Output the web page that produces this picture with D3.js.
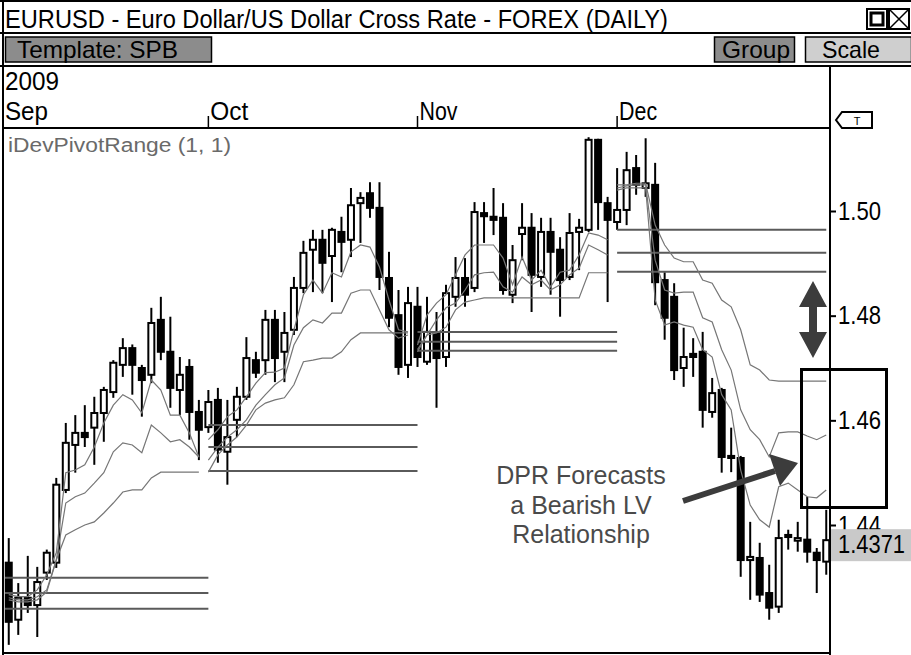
<!DOCTYPE html>
<html>
<head>
<meta charset="utf-8">
<script src="https://cdn.jsdelivr.net/npm/d3@7"></script>
<style>
  html, body { margin: 0; padding: 0; background: #fff; }
  svg { display: block; }
</style>
</head>
<body>
<svg id="chart" width="911" height="655"></svg>
<script>
// ---- EUR/USD daily candles, 2 Sep - 31 Dec 2009 ----
const opens = [
  1.4328, 1.4219, 1.4261, 1.4247, 1.4309, 1.4328, 1.4467, 1.4553, 1.4576, 1.4586, 1.4614,
  1.4654, 1.4706, 1.4738, 1.4700, 1.4687, 1.4792, 1.4731, 1.4658, 1.4702, 1.4616,
  1.4587, 1.4639, 1.4540, 1.4601, 1.4645, 1.4715, 1.4715, 1.4792, 1.4731, 1.4773, 1.4853,
  1.4926, 1.4945, 1.4914, 1.4960, 1.4945, 1.5015, 1.5034, 1.5006, 1.4872, 1.4801, 1.4706,
  1.4817, 1.4712, 1.4767, 1.4721, 1.4836, 1.4872, 1.4853, 1.4996, 1.4989, 1.4987, 1.4840,
  1.4956, 1.4968, 1.4874, 1.4960, 1.4926, 1.4874, 1.4960, 1.4964, 1.5136, 1.5015,
  1.4979, 1.5002, 1.5082, 1.5044, 1.5050, 1.4868, 1.4836, 1.4700, 1.4727, 1.4731, 1.4616,
  1.4658, 1.4532, 1.4528, 1.4333, 1.4337, 1.4270, 1.4244, 1.4381, 1.4370, 1.4372, 1.4347, 1.4330
];
const highs = [
  1.4375, 1.4289, 1.4341, 1.4320, 1.4353, 1.4490, 1.4595, 1.4610, 1.4629, 1.4645, 1.4664,
  1.4715, 1.4757, 1.4745, 1.4706, 1.4815, 1.4836, 1.4798, 1.4721, 1.4717, 1.4639,
  1.4658, 1.4662, 1.4639, 1.4664, 1.4759, 1.4731, 1.4811, 1.4811, 1.4807, 1.4874, 1.4943,
  1.4964, 1.4964, 1.4968, 1.4989, 1.5044, 1.5036, 1.5055, 1.5055, 1.4922, 1.4849, 1.4855,
  1.4855, 1.4836, 1.4807, 1.4859, 1.4912, 1.4910, 1.5017, 1.5017, 1.5044, 1.5015, 1.4935,
  1.5015, 1.4996, 1.4987, 1.4987, 1.4950, 1.4996, 1.4985, 1.5141, 1.5138, 1.5027,
  1.5082, 1.5113, 1.5107, 1.5139, 1.5092, 1.4883, 1.4862, 1.4777, 1.4757, 1.4769, 1.4681,
  1.4662, 1.4586, 1.4532, 1.4406, 1.4366, 1.4324, 1.4410, 1.4391, 1.4406, 1.4454, 1.4356, 1.4429
];
const lows = [
  1.4171, 1.4190, 1.4232, 1.4186, 1.4295, 1.4318, 1.4461, 1.4500, 1.4549, 1.4515, 1.4559,
  1.4643, 1.4683, 1.4649, 1.4607, 1.4671, 1.4715, 1.4624, 1.4610, 1.4563, 1.4524,
  1.4576, 1.4519, 1.4477, 1.4568, 1.4639, 1.4681, 1.4687, 1.4673, 1.4673, 1.4763, 1.4843,
  1.4845, 1.4843, 1.4826, 1.4883, 1.4912, 1.4939, 1.4987, 1.4849, 1.4778, 1.4687, 1.4681,
  1.4702, 1.4706, 1.4624, 1.4702, 1.4817, 1.4817, 1.4845, 1.4939, 1.4954, 1.4840, 1.4824,
  1.4906, 1.4807, 1.4855, 1.4840, 1.4798, 1.4868, 1.4887, 1.4960, 1.4964, 1.4826,
  1.4964, 1.4973, 1.5031, 1.5027, 1.4820, 1.4754, 1.4677, 1.4664, 1.4683, 1.4586, 1.4605,
  1.4500, 1.4501, 1.4301, 1.4257, 1.4253, 1.4219, 1.4232, 1.4353, 1.4349, 1.4328, 1.4270, 1.4305
];
const closes = [
  1.4215, 1.4261, 1.4247, 1.4291, 1.4347, 1.4477, 1.4557, 1.4576, 1.4568, 1.4614, 1.4658,
  1.4710, 1.4738, 1.4706, 1.4677, 1.4786, 1.4731, 1.4662, 1.4687, 1.4616, 1.4582,
  1.4635, 1.4544, 1.4568, 1.4645, 1.4719, 1.4691, 1.4792, 1.4719, 1.4767, 1.4853, 1.4920,
  1.4945, 1.4901, 1.4964, 1.4941, 1.5011, 1.5025, 1.5006, 1.4874, 1.4796, 1.4702, 1.4824,
  1.4721, 1.4769, 1.4719, 1.4843, 1.4872, 1.4840, 1.4998, 1.4990, 1.4983, 1.4849, 1.4906,
  1.4968, 1.4878, 1.4960, 1.4922, 1.4868, 1.4958, 1.4968, 1.5136, 1.5017, 1.4983,
  1.5002, 1.5078, 1.5050, 1.5053, 1.4864, 1.4796, 1.4696, 1.4721, 1.4721, 1.4620, 1.4652,
  1.4530, 1.4528, 1.4333, 1.4339, 1.4267, 1.4242, 1.4375, 1.4377, 1.4375, 1.4349, 1.4333, 1.4371
];

// ---- iDevPivotRange (1, 1): developing monthly range lines, one value per bar ----
const pivotUpper = [
  1.4267, 1.4263, 1.4263, 1.4276, 1.4305, 1.4347, 1.4500, 1.4505, 1.4515, 1.4549, 1.4595,
  1.4629, 1.4649, 1.4639, 1.4614, 1.4677, 1.4658, 1.4610, 1.4610, 1.4576, 1.4530,
  1.4563, 1.4582, 1.4607, 1.4620, 1.4645, 1.4671, 1.4691, 1.4692, 1.4700, 1.4773, 1.4840,
  1.4868, 1.4843, 1.4882, 1.4874, 1.4922, 1.4935, 1.4931, 1.4893, 1.4830, 1.4773, 1.4769,
  1.4744, 1.4801, 1.4824, 1.4840, 1.4878, 1.4916, 1.4935, 1.4935, 1.4935, 1.4910, 1.4859,
  1.4912, 1.4868, 1.4887, 1.4855, 1.4883, 1.4887, 1.4916, 1.4958, 1.4954, 1.4945,
  1.5050, 1.5050, 1.5053, 1.5053, 1.4973, 1.4935, 1.4910, 1.4903, 1.4903, 1.4868, 1.4862,
  1.4830, 1.4817, 1.4773, 1.4706, 1.4696, 1.4677, 1.4675, 1.4675, 1.4675, 1.4675, 1.4675, 1.4675
];
const pivotMid = [
  1.4261, 1.4257, 1.4257, 1.4263, 1.4276, 1.4333, 1.4442, 1.4454, 1.4461, 1.4480, 1.4500,
  1.4540, 1.4557, 1.4553, 1.4538, 1.4591, 1.4576, 1.4559, 1.4563, 1.4549, 1.4530,
  1.4524, 1.4549, 1.4568, 1.4582, 1.4601, 1.4629, 1.4649, 1.4668, 1.4681, 1.4744, 1.4777,
  1.4792, 1.4786, 1.4805, 1.4805, 1.4843, 1.4849, 1.4849, 1.4811, 1.4773, 1.4757, 1.4763,
  1.4735, 1.4763, 1.4792, 1.4815, 1.4824, 1.4849, 1.4878, 1.4882, 1.4883, 1.4855, 1.4845,
  1.4874, 1.4859, 1.4868, 1.4849, 1.4859, 1.4878, 1.4891, 1.4935, 1.4926, 1.4916,
  1.5044, 1.5048, 1.5050, 1.5050, 1.4906, 1.4849, 1.4843, 1.4845, 1.4845, 1.4796, 1.4788,
  1.4735, 1.4696, 1.4620, 1.4582, 1.4563, 1.4530, 1.4576, 1.4578, 1.4578, 1.4570, 1.4563, 1.4572
];
const pivotLower = [
  1.4257, 1.4253, 1.4253, 1.4257, 1.4272, 1.4333, 1.4381, 1.4391, 1.4400, 1.4406, 1.4423,
  1.4442, 1.4463, 1.4467, 1.4467, 1.4490, 1.4501, 1.4501, 1.4501, 1.4501, 1.4501,
  1.4501, 1.4534, 1.4553, 1.4568, 1.4591, 1.4620, 1.4633, 1.4639, 1.4643, 1.4668, 1.4712,
  1.4715, 1.4719, 1.4719, 1.4731, 1.4754, 1.4767, 1.4767, 1.4767, 1.4767, 1.4767, 1.4767,
  1.4731, 1.4763, 1.4767, 1.4778, 1.4811, 1.4826, 1.4830, 1.4834, 1.4834, 1.4834, 1.4834,
  1.4834, 1.4834, 1.4834, 1.4834, 1.4834, 1.4834, 1.4834, 1.4882, 1.4882, 1.4882,
  1.5040, 1.5044, 1.5044, 1.5044, 1.4830, 1.4782, 1.4788, 1.4782, 1.4778, 1.4735, 1.4721,
  1.4649, 1.4620, 1.4505, 1.4438, 1.4410, 1.4396, 1.4473, 1.4480, 1.4467, 1.4454, 1.4452, 1.4467
];

// ---- pivot range levels carried flat through each month ----
const rangeMonths = ["2009-09", "2009-10", "2009-11", "2009-12"];
const rangeUpper = [1.4299, 1.4591, 1.4769, 1.4964];
const rangeMid   = [1.4270, 1.4549, 1.4750, 1.4920];
const rangeLower = [1.4240, 1.4503, 1.4733, 1.4884];

const priceTicks = [1.44, 1.46, 1.48, 1.50];
const lastPrice = 1.4371;
const yearLabel = "2009";
const noteLines = ["DPR Forecasts", "a Bearish LV", "Relationship"];

// ---- setup ----
const W = 911, H = 655;
// Arial-metric face squeezed with textLength to give the condensed platform look
const face = "'Liberation Sans',Arial,Helvetica,sans-serif";

const svg = d3.select("#chart");
svg.append("rect").attr("width", W).attr("height", H).attr("fill", "#fff");

function label(sel, x0, y0, size, width, str) {
  return sel.append("text")
    .attr("x", x0).attr("y", y0)
    .attr("font-family", face).attr("font-size", size)
    .attr("textLength", width).attr("lengthAdjust", "spacingAndGlyphs")
    .text(str);
}

// trading days (Mon-Fri)
const parseDay = d3.timeParse("%Y-%m-%d");
const dates = d3.timeDay.range(parseDay("2009-09-02"), parseDay("2010-01-01"))
  .filter(d => d.getDay() !== 0 && d.getDay() !== 6);

const bars = dates.map((date, i) => ({
  date, open: opens[i], high: highs[i], low: lows[i], close: closes[i],
  upper: pivotUpper[i], mid: pivotMid[i], lower: pivotLower[i]
}));

const plot = { left: 4, right: 830, top: 129, bottom: 652 };

const x = d3.scaleBand().domain(dates).range([plot.left, 831]);
const cx = d => x(d) + x.bandwidth() / 2;
const y = d3.scaleLinear().domain([1.44, 1.50]).range([525, 211]);

// ---- window chrome ----
const chrome = svg.append("g");
label(chrome, 5, 28, 26, 663, "EURUSD - Euro Dollar/US Dollar Cross Rate - FOREX (DAILY)");

// maximize / close icons
chrome.append("rect").attr("x", 867).attr("y", 9).attr("width", 20).attr("height", 20)
  .attr("fill", "#fff").attr("stroke", "#000").attr("stroke-width", 2);
chrome.append("rect").attr("x", 871).attr("y", 13).attr("width", 12).attr("height", 12)
  .attr("fill", "none").attr("stroke", "#000").attr("stroke-width", 3);
chrome.append("rect").attr("x", 889).attr("y", 9).attr("width", 20).attr("height", 20)
  .attr("fill", "#fff").attr("stroke", "#000").attr("stroke-width", 2);
chrome.append("path").attr("d", "M889,9L909,29M909,9L889,29")
  .attr("stroke", "#000").attr("stroke-width", 1.5);

// toolbar buttons
function button(x0, w, fill, str, tx, tl) {
  chrome.append("rect").attr("x", x0).attr("y", 37).attr("width", w).attr("height", 25)
    .attr("fill", fill).attr("stroke", "#000").attr("stroke-width", 1.5);
  label(chrome, tx, 58, 24, tl, str);
}
button(5.5, 206, "#8c8c8c", "Template: SPB", 17, 161);
button(714.5, 80, "#8c8c8c", "Group", 722, 68);
button(805.5, 106, "#cfcfcf", "Scale", 822, 58);

// frame lines
const frame = chrome.append("g").attr("stroke", "#000").attr("fill", "none");
frame.append("line").attr("x1", 0).attr("x2", W).attr("y1", 1).attr("y2", 1).attr("stroke-width", 2);
frame.append("line").attr("x1", 3).attr("x2", 3).attr("y1", 0).attr("y2", H).attr("stroke-width", 2);
frame.append("line").attr("x1", 0).attr("x2", W).attr("y1", 33).attr("y2", 33).attr("stroke-width", 2);
frame.append("line").attr("x1", 0).attr("x2", W).attr("y1", 66).attr("y2", 66).attr("stroke-width", 2);
frame.append("line").attr("x1", 3).attr("x2", 830).attr("y1", 128).attr("y2", 128).attr("stroke-width", 2);
frame.append("line").attr("x1", 830).attr("x2", 830).attr("y1", 66).attr("y2", H).attr("stroke-width", 2);
frame.append("line").attr("x1", 3).attr("x2", 830).attr("y1", 653).attr("y2", 653).attr("stroke-width", 2);

// ---- date axis ----
label(svg, 5, 90, 25, 54, yearLabel);

const monthStarts = dates.filter((d, i) => i > 0 && d.getMonth() !== dates[i - 1].getMonth());
const monthFmt = d3.timeFormat("%b");

const xAxis = d3.axisTop(x).tickValues(monthStarts).tickSize(12).tickFormat(monthFmt);
const xg = svg.append("g").attr("transform", "translate(0,128)").call(xAxis);
xg.select(".domain").remove();
xg.selectAll(".tick line").attr("stroke", "#000").attr("stroke-width", 1.5);
xg.selectAll(".tick text")
  .attr("x", 2).attr("y", -8).attr("dy", 0)
  .attr("text-anchor", "start")
  .attr("font-family", face).attr("font-size", 25).attr("fill", "#000")
  .attr("textLength", 38).attr("lengthAdjust", "spacingAndGlyphs");
// the first month's start falls before the first bar, so its label sits at the left edge
label(svg, 5, 120, 25, 43, monthFmt(dates[0]));

// indicator caption
svg.append("text").attr("x", 8).attr("y", 152)
  .attr("font-family", face).attr("font-size", 20).attr("fill", "#6a6a6a")
  .attr("textLength", 223).attr("lengthAdjust", "spacingAndGlyphs")
  .text("iDevPivotRange (1, 1)");

// ---- plot area ----
svg.append("clipPath").attr("id", "plotClip")
  .append("rect").attr("x", plot.left).attr("y", plot.top)
  .attr("width", plot.right - plot.left).attr("height", plot.bottom - plot.top);
const pg = svg.append("g").attr("clip-path", "url(#plotClip)");

// candles
const candle = pg.append("g").selectAll("g").data(bars).join("g");
candle.append("line")
  .attr("x1", d => cx(d.date)).attr("x2", d => cx(d.date))
  .attr("y1", d => y(d.high)).attr("y2", d => y(d.low))
  .attr("stroke", "#000").attr("stroke-width", 2);
candle.append("rect")
  .attr("x", d => cx(d.date) - 3)
  .attr("width", 6)
  .attr("y", d => y(Math.max(d.open, d.close)))
  .attr("height", d => Math.max(1.5, Math.abs(y(d.open) - y(d.close))))
  .attr("fill", d => d.close >= d.open ? "#fff" : "#000")
  .attr("stroke", "#000").attr("stroke-width", 2);

// flat monthly range levels
const monthKey = d3.timeFormat("%Y-%m");
const rangeRows = rangeMonths.flatMap((m, k) => {
  const inMonth = dates.filter(d => monthKey(d) === m);
  const next = dates.find(d => d > inMonth[inMonth.length - 1]);
  const x1 = k === 0 ? plot.left + 1 : cx(inMonth[0]);
  const x2 = next ? cx(next) : cx(inMonth[inMonth.length - 1]);
  return [rangeUpper[k], rangeMid[k], rangeLower[k]].map(v => ({ x1, x2, v }));
});
pg.append("g").selectAll("line").data(rangeRows).join("line")
  .attr("x1", d => d.x1).attr("x2", d => d.x2)
  .attr("y1", d => y(d.v)).attr("y2", d => y(d.v))
  .attr("stroke", "#5a5a5a").attr("stroke-width", 2);

// developing range lines, restarted each month
const byMonth = d3.groups(bars, d => monthKey(d.date));
["upper", "mid", "lower"].forEach(key => {
  const line = d3.line().x(d => cx(d.date)).y(d => y(d[key]));
  pg.append("g").selectAll("path").data(byMonth).join("path")
    .attr("d", ([, rows]) => line(rows))
    .attr("fill", "none").attr("stroke", "#767676").attr("stroke-width", 1.2);
});

// ---- price axis ----
const yAxis = d3.axisRight(y).tickValues(priceTicks).tickSize(6).tickPadding(2)
  .tickFormat(d3.format(".2f"));
const yg = svg.append("g").attr("transform", "translate(830,0)").call(yAxis);
yg.select(".domain").remove();
yg.selectAll(".tick line").attr("stroke", "#000").attr("stroke-width", 2);
yg.selectAll(".tick text")
  .attr("font-family", face).attr("font-size", 25).attr("fill", "#000")
  .attr("textLength", 43).attr("lengthAdjust", "spacingAndGlyphs");

// last price tag (sits over the lowest axis label, as on the platform)
const tagY = y(lastPrice);
svg.append("rect").attr("x", 831).attr("y", tagY - 11).attr("width", 80).attr("height", 32)
  .attr("fill", "#c9c9c9");
label(svg, 838, tagY + 13, 25, 67, d3.format(".4f")(lastPrice));

// tag marker in the axis header
svg.append("path").attr("d", "M836,120L842,112L872,112L872,128L842,128Z")
  .attr("fill", "#fff").attr("stroke", "#000").attr("stroke-width", 2);
svg.append("text").attr("x", 857).attr("y", 124.5).attr("text-anchor", "middle")
  .attr("font-family", face).attr("font-size", 11).text("T");

// ---- annotations ----
const ann = svg.append("g");
const ink = "#3c3c3c";
// expected range double arrow
ann.append("path")
  .attr("d", "M813,281L827,307L817,307L817,332L827,332L813,358L799,332L809,332L809,307L799,307Z")
  .attr("fill", ink);
// forecast box
ann.append("rect").attr("x", 801.5).attr("y", 369.5).attr("width", 85).attr("height", 138)
  .attr("fill", "none").attr("stroke", "#000").attr("stroke-width", 3);
// pointer arrow
ann.append("line").attr("x1", 683).attr("y1", 501).attr("x2", 775).attr("y2", 471)
  .attr("stroke", ink).attr("stroke-width", 6);
ann.append("path").attr("d", "M798,463L769,454L780,486Z").attr("fill", ink);
// note
ann.append("g").selectAll("text").data(noteLines).join("text")
  .attr("x", 581).attr("y", (d, i) => 484 + i * 29.5)
  .attr("text-anchor", "middle")
  .attr("font-family", face).attr("font-size", 25).attr("fill", "#4a4a4a")
  .text(d => d);
</script>
</body>
</html>
